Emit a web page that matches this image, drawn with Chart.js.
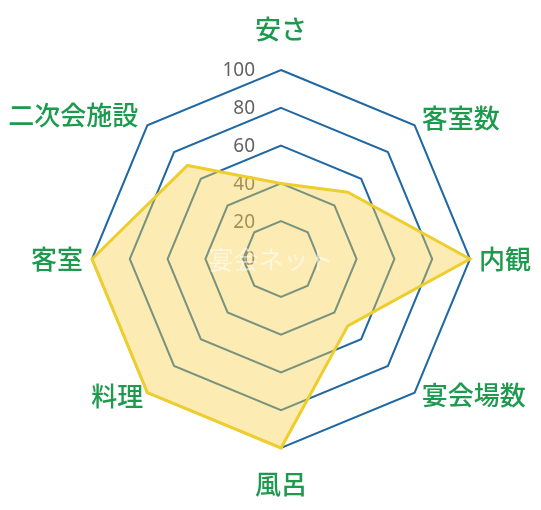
<!DOCTYPE html>
<html>
<head>
<meta charset="utf-8">
<script src="https://cdn.jsdelivr.net/npm/chart.js@4.4.0/dist/chart.umd.min.js"></script>
<style>
html,body{margin:0;padding:0;background:#fff;}
#wrap{width:541px;height:510px;position:relative;}
</style>
</head>
<body>
<div id="wrap"><canvas id="c" width="541" height="510"></canvas></div>
<script>
const categories = ['安さ', '客室数', '内観', '宴会場数', '風呂', '料理', '客室', '二次会施設'];
const scores = [40, 50, 100, 50, 100, 100, 100, 70];
const tickValues = [0, 20, 40, 60, 80, 100];
const watermark = '宴会ネット';

const labelOffsets = [
  {dx: 0, dy: -41, align: 'center'},
  {dx: 7, dy: -7, align: 'left'},
  {dx: 9, dy: 0, align: 'left'},
  {dx: 7, dy: 2, align: 'left'},
  {dx: 0, dy: 36, align: 'center'},
  {dx: -4, dy: 3, align: 'right'},
  {dx: -9, dy: 0, align: 'right'},
  {dx: -9, dy: -10, align: 'right'}
];

const customText = {
  id: 'customText',
  beforeDatasetsDraw(chart) {
    const s = chart.scales.r;
    const ctx = chart.ctx;
    ctx.save();
    ctx.font = '19px "Noto Sans", "Open Sans", sans-serif';
    ctx.fillStyle = '#636363';
    ctx.textAlign = 'right';
    ctx.textBaseline = 'middle';
    tickValues.forEach(v => {
      const d = s.getDistanceFromCenterForValue(v);
      ctx.fillText(String(v), s.xCenter - 26, s.yCenter - d + 1);
    });
    ctx.restore();
  },
  afterDatasetsDraw(chart) {
    const s = chart.scales.r;
    const ctx = chart.ctx;
    ctx.save();
    ctx.font = '25px "Noto Sans CJK JP", sans-serif';
    ctx.fillStyle = 'rgba(255,255,255,0.55)';
    ctx.textAlign = 'center';
    ctx.textBaseline = 'middle';
    ctx.fillText(watermark, s.xCenter - 10, s.yCenter);
    ctx.font = '500 26px "Noto Sans CJK JP", sans-serif';
    ctx.fillStyle = '#1c9a4e';
    categories.forEach((lab, i) => {
      const p = s.getPointPosition(i, s.drawingArea);
      const o = labelOffsets[i];
      ctx.textAlign = o.align;
      ctx.fillText(lab, p.x + o.dx, p.y + o.dy);
    });
    ctx.restore();
  }
};

new Chart(document.getElementById('c'), {
  type: 'radar',
  data: {
    labels: categories,
    datasets: [{
      data: scores,
      borderColor: 'rgb(238,206,45)',
      backgroundColor: 'rgba(247,208,75,0.42)',
      borderWidth: 3,
      pointRadius: 0,
      pointHoverRadius: 0,
      fill: true
    }]
  },
  options: {
    responsive: false,
    animation: false,
    devicePixelRatio: 1,
    layout: {padding: {left: 92, right: 71, top: 70, bottom: 62}},
    plugins: {legend: {display: false}, tooltip: {enabled: false}},
    scales: {
      r: {
        min: 0,
        max: 100,
        ticks: {display: false, stepSize: 20},
        angleLines: {display: false},
        grid: {color: '#1f68a4', lineWidth: 2},
        pointLabels: {display: false}
      }
    }
  },
  plugins: [customText]
});
</script>
</body>
</html>
